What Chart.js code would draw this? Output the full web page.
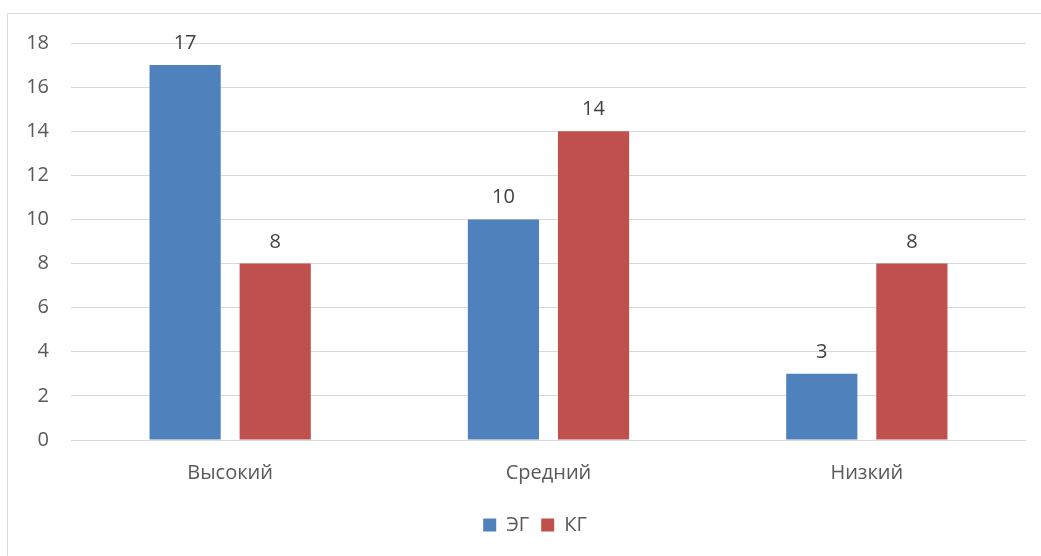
<!DOCTYPE html>
<html>
<head>
<meta charset="utf-8">
<script src="https://cdn.jsdelivr.net/npm/chart.js@4/dist/chart.umd.min.js"></script>
<style>
  html, body { margin: 0; padding: 0; background: #ffffff; }
  #wrap { position: relative; width: 1041px; height: 556px; }
</style>
</head>
<body>
<div id="wrap"><canvas id="c" width="1041" height="556"></canvas></div>
<script>
// Уровни и число испытуемых в экспериментальной и контрольной группах
const categories = ['Высокий', 'Средний', 'Низкий'];
const egValues = [17, 10, 3];
const kgValues = [8, 14, 8];
const seriesNames = ['ЭГ', 'КГ'];

const FONT = '"Open Sans", "Liberation Sans", sans-serif';

// Подписи значений над столбцами
const valueLabels = {
  id: 'valueLabels',
  afterDatasetsDraw(chart) {
    const ctx = chart.ctx;
    ctx.save();
    ctx.font = '20px ' + FONT;
    ctx.fillStyle = '#404040';
    ctx.textAlign = 'center';
    ctx.textBaseline = 'alphabetic';
    chart.data.datasets.forEach((ds, i) => {
      chart.getDatasetMeta(i).data.forEach((el, j) => {
        ctx.fillText(String(ds.data[j]), el.x, el.y - 16);
      });
    });
    ctx.restore();
  }
};

// Рамка области диаграммы (видны верхняя и левая стороны)
const frame = {
  id: 'frame',
  beforeDraw(chart) {
    const ctx = chart.ctx;
    ctx.save();
    ctx.strokeStyle = '#d9d9d9';
    ctx.lineWidth = 1;
    ctx.beginPath();
    ctx.moveTo(7.5, 556);
    ctx.lineTo(7.5, 13.5);
    ctx.lineTo(1041, 13.5);
    ctx.stroke();
    ctx.restore();
  }
};

// Легенда центрируется по области, смещённой вправо на ширину подписей оси
const legendShift = {
  id: 'legendShift',
  afterLayout(chart) {
    if (chart.legend) chart.legend.left += 44;
  }
};

new Chart(document.getElementById('c'), {
  type: 'bar',
  data: {
    labels: categories,
    datasets: [
      { label: seriesNames[0], data: egValues, backgroundColor: '#4f81bd' },
      { label: seriesNames[1], data: kgValues, backgroundColor: '#c0504d' }
    ]
  },
  options: {
    responsive: false,
    animation: false,
    categoryPercentage: 0.566,
    barPercentage: 0.79,
    layout: { padding: { left: 0, right: 15, top: 43, bottom: 11 } },
    plugins: {
      legend: {
        position: 'bottom',
        labels: {
          boxWidth: 13,
          boxHeight: 13,
          padding: 12,
          color: '#595959',
          font: { family: FONT, size: 20 }
        }
      },
      tooltip: { enabled: false }
    },
    scales: {
      x: {
        grid: { display: false },
        border: { display: false },
        ticks: { color: '#595959', padding: 13, font: { family: FONT, size: 20 } },
        afterFit(scale) { scale.height = 63; }
      },
      y: {
        min: 0,
        max: 18,
        ticks: { stepSize: 2, color: '#595959', padding: 22, font: { family: FONT, size: 20 } },
        grid: { color: '#d9d9d9', lineWidth: 1, drawTicks: false },
        border: { display: false },
        afterFit(scale) { scale.width = 71; }
      }
    }
  },
  plugins: [valueLabels, frame, legendShift]
});
</script>
</body>
</html>
